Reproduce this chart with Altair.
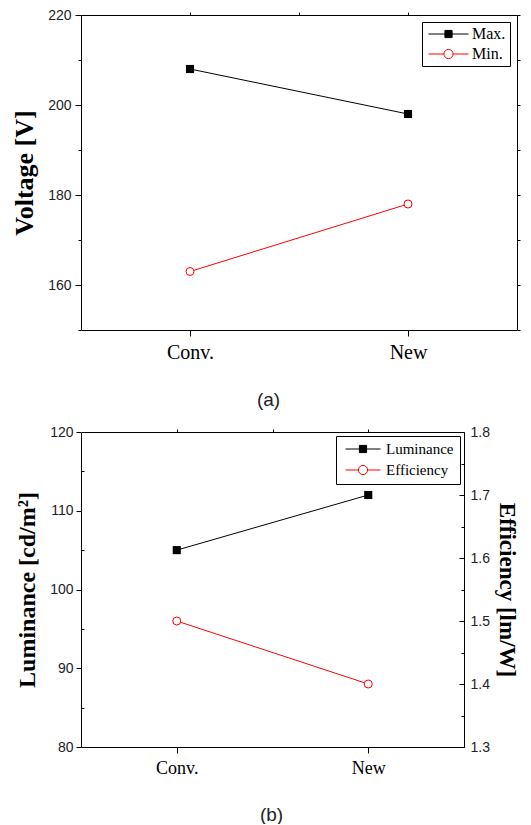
import altair as alt
import pandas as pd

# ---------------- data ----------------
categories = ["Conv.", "New"]
x_pos = [1, 2]
x_top_ticks = [1, 1.5, 2]

series_a = ["Max.", "Min."]
voltage_max = [208, 198]
voltage_min = [163, 178]

series_b = ["Luminance", "Efficiency"]
luminance = [105, 112]
efficiency = [1.5, 1.4]

volt_ticks = [160, 180, 200, 220]
volt_minor = [150, 170, 190, 210]
volt_right = [150, 160, 170, 180, 190, 200, 210, 220]
lum_ticks = [80, 90, 100, 110, 120]
lum_minor = [85, 95, 105, 115]
eff_ticks = [1.3, 1.4, 1.5, 1.6, 1.7, 1.8]
eff_minor = [1.35, 1.45, 1.55, 1.65, 1.75]

W_A, H_A = 436, 315
W_B, H_B = 383, 315


def frame(series, values):
    return pd.DataFrame({"idx": x_pos, "cat": categories,
                         "series": [series] * len(values), "value": values})


df_max = frame(series_a[0], voltage_max)
df_min = frame(series_a[1], voltage_min)
df_a = pd.concat([df_max, df_min], ignore_index=True)
df_lum = frame(series_b[0], luminance)
df_eff = frame(series_b[1], efficiency)

label_expr = "".join(f"datum.value == {p} ? '{c}' : " for p, c in zip(x_pos, categories)) + "''"

xs = alt.Scale(domain=[0.5, 2.5], nice=False, zero=False)
ys_a = alt.Scale(domain=[150, 220], nice=False, zero=False)
ys_lum = alt.Scale(domain=[80, 120], nice=False, zero=False)
ys_eff = alt.Scale(domain=[1.3, 1.8], nice=False, zero=False)

TICK_FONT = "Liberation Sans"
SERIF = "Liberation Serif"


def X(axis):
    return alt.X("idx:Q", scale=xs, axis=axis, title=None)


def Y(scale, axis):
    return alt.Y("value:Q", scale=scale, axis=axis, title=None)


def legend(names, size, font_size, offset, padding, clip, row_pad, label_offset, sym_offset):
    r = (size ** 0.5) / 2
    s = round(3.6 / r, 3)
    c = round(4.6 / r, 3)
    sq = f"M-1,0H1M{-s},{-s}H{s}V{s}H{-s}Z"
    ci = f"M-1,0H{-c}M{c},0H1M{-c},0A{c},{c} 0 1,0 {c},0A{c},{c} 0 1,0 {-c},0Z"
    test = f"datum.value === '{names[0]}'"
    return alt.Legend(
        title=None, orient="top-right", offset=offset, padding=padding,
        strokeColor="black", fillColor="white", symbolSize=size,
        clipHeight=clip, rowPadding=row_pad, labelOffset=label_offset,
        symbolOffset=sym_offset, symbolStrokeWidth=1,
        labelFont=SERIF, labelFontSize=font_size, labelColor="black",
        symbolType=alt.ExprRef(expr=f"{test} ? '{sq}' : '{ci}'"),
        symbolFillColor=alt.ExprRef(expr=f"{test} ? 'black' : 'white'"),
    )


def tick_axis(orient, values, size, domain=False, offset=0):
    kw = dict(orient=orient, values=values, tickSize=size, labels=False,
              domain=domain, grid=False, title=None)
    if offset:
        kw["offset"] = offset
    return alt.Axis(**kw)


def square_pts(df, ys):
    return alt.Chart(df).mark_point(shape="square", filled=True, color="black", opacity=1,
                                    size=66).encode(x=X(None), y=Y(ys, None))


def circle_pts(df, ys):
    return alt.Chart(df).mark_point(shape="circle", filled=True, fill="white", stroke="red",
                                    strokeWidth=1, opacity=1, size=64).encode(x=X(None), y=Y(ys, None))


# ---------------- panel (a) ----------------
stroke_a = alt.Scale(domain=series_a, range=["black", "red"])
leg_a = legend(series_a, 1600, 16, 7, 4, 16, 4, 3, 2)

line_a = alt.Chart(df_a).mark_line(strokeWidth=1).encode(
    x=X(None), y=Y(ys_a, None),
    stroke=alt.Stroke("series:N", scale=stroke_a, legend=leg_a))

base_a = alt.Chart(df_a).mark_point(opacity=0)
bottom_a = alt.Axis(orient="bottom", values=x_pos, labelExpr=label_expr, tickSize=6, labelPadding=6,
                    labelFont=SERIF, labelFontSize=20, labelColor="black", labelFlush=False,
                    domain=True, grid=False, title="(a)", titleFont=TICK_FONT, titleFontSize=19,
                    titleFontWeight="normal", titleColor="#222", titleX=187, titleY=69,
                    titleBaseline="middle", titleAlign="center")
left_a = alt.Axis(orient="left", values=volt_ticks, tickSize=6, labelPadding=4, labelFont=TICK_FONT,
                  labelFontSize=14, labelColor="#222", labelFlush=False, format="d", domain=True,
                  grid=False, title="Voltage [V]", titleFont=SERIF, titleFontSize=26,
                  titleFontWeight="bold", titleColor="black", titlePadding=10)

panel_a = alt.layer(
    line_a, square_pts(df_max, ys_a), circle_pts(df_min, ys_a),
    base_a.encode(x=X(bottom_a), y=Y(ys_a, left_a)),
    base_a.encode(x=X(tick_axis("top", x_top_ticks, 3, True)), y=Y(ys_a, tick_axis("left", volt_minor, 3))),
    base_a.encode(x=X(None), y=Y(ys_a, tick_axis("right", volt_right, 3, True))),
).resolve_axis(x="independent", y="independent").properties(width=W_A, height=H_A)

# ---------------- panel (b) ----------------
stroke_b = alt.Scale(domain=series_b, range=["black", "red"])
leg_b = legend(series_b, 1225, 15, 4, 6, 14, 6, 5, 3)

line_lum = alt.Chart(df_lum).mark_line(strokeWidth=1).encode(
    x=X(None), y=Y(ys_lum, None), stroke=alt.Stroke("series:N", scale=stroke_b, legend=leg_b))
line_eff = alt.Chart(df_eff).mark_line(strokeWidth=1).encode(
    x=X(None), y=Y(ys_eff, None), stroke=alt.Stroke("series:N", scale=stroke_b, legend=leg_b))

base_lum = alt.Chart(df_lum).mark_point(opacity=0)
base_eff = alt.Chart(df_eff).mark_point(opacity=0)

bottom_b = alt.Axis(orient="bottom", values=x_pos, labelExpr=label_expr, tickSize=6, labelPadding=6,
                    labelFont=SERIF, labelFontSize=18, labelColor="black", labelFlush=False,
                    domain=True, grid=False, title="(b)", titleFont=TICK_FONT, titleFontSize=19,
                    titleFontWeight="normal", titleColor="#222", titleX=190, titleY=67,
                    titleBaseline="middle", titleAlign="center")
left_b = alt.Axis(orient="left", values=lum_ticks, tickSize=5, labelPadding=3, labelFont=TICK_FONT,
                  labelFontSize=14, labelColor="#222", labelFlush=False, format="d", domain=True,
                  grid=False, title="Luminance [cd/m²]", titleFont=SERIF, titleFontSize=24,
                  titleFontWeight="bold", titleColor="black", titlePadding=10)
right_b = alt.Axis(orient="right", values=eff_ticks, ticks=False, tickSize=0, labelPadding=6,
                   labelFont=TICK_FONT, labelFontSize=14, labelColor="#222", labelFlush=False,
                   format=".1f", domain=True, grid=False, title="Efficiency [lm/W]", titleFont=SERIF,
                   titleFontSize=23, titleFontWeight="bold", titleColor="black", titlePadding=5)

group_lum = alt.layer(
    line_lum, square_pts(df_lum, ys_lum),
    base_lum.encode(x=X(bottom_b), y=Y(ys_lum, left_b)),
    base_lum.encode(x=X(tick_axis("top", x_top_ticks, 3, True)),
                    y=Y(ys_lum, tick_axis("right", lum_minor, 3, False, -W_B))),
).resolve_axis(x="independent", y="independent")

group_eff = alt.layer(
    line_eff, circle_pts(df_eff, ys_eff),
    base_eff.encode(x=X(None), y=Y(ys_eff, right_b)),
    base_eff.encode(x=X(None), y=Y(ys_eff, tick_axis("left", eff_ticks, 5, False, -W_B))),
    base_eff.encode(x=X(None), y=Y(ys_eff, tick_axis("left", eff_minor, 3, False, -W_B))),
).resolve_axis(x="independent", y="independent")

panel_b = alt.layer(group_lum, group_eff).resolve_scale(y="independent").resolve_axis(
    x="independent", y="independent").properties(width=W_B, height=H_B)

chart = alt.concat(panel_a, panel_b, columns=1, spacing=16, align="none").resolve_scale(
    stroke="independent").resolve_legend(stroke="independent").configure_view(
    stroke=None).configure_axis(
    domainColor="black", tickColor="black", domainWidth=1, tickWidth=1
).properties(padding={"left": 3, "top": 0, "right": 0, "bottom": 0})

chart.save("out.html", embed_options={"renderer": "svg", "actions": False})
